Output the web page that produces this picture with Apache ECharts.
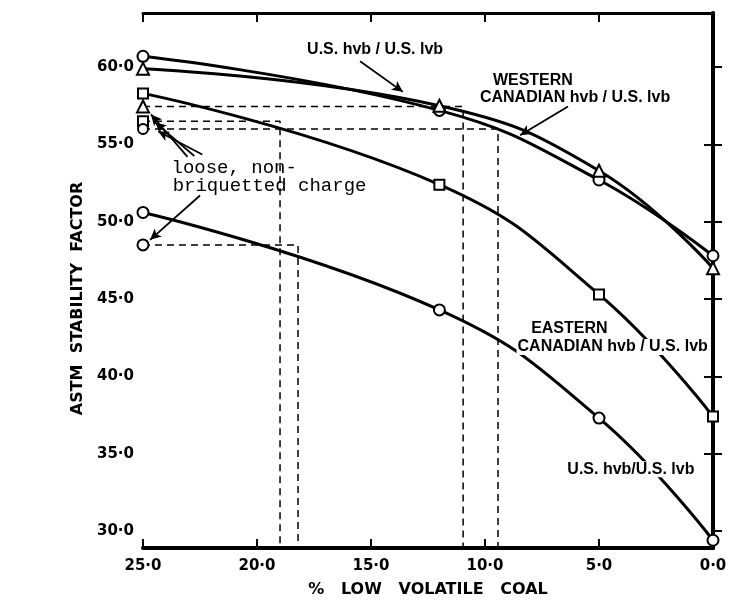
<!DOCTYPE html>
<html><head><meta charset="utf-8">
<script src="https://cdn.jsdelivr.net/npm/echarts@6/dist/echarts.min.js"></script>
<style>html,body{margin:0;padding:0;background:#fff}#c{width:737px;height:603px}</style>
</head><body><div id="c"></div>
<script>
// ---- data ----
const lowVolPct      = [25, 12, 5, 0];
const usHvbUpper     = [60.7, 57.2, 52.7, 47.8];   // circles, U.S. hvb / U.S. lvb (upper)
const westernCdnHvb  = [59.9, 57.5, 53.3, 47.0];   // triangles, Western Canadian hvb / U.S. lvb
const easternCdnHvb  = [58.3, 52.4, 45.3, 37.4];   // squares, Eastern Canadian hvb / U.S. lvb
const usHvbLower     = [50.6, 44.3, 37.3, 29.4];   // circles, U.S. hvb / U.S. lvb (lower)
// loose, non-briquetted charge values (plotted at 25 %)
const looseTriangle = 57.45, looseSquare = 56.5, looseCircleUpper = 56.0, looseCircleLower = 48.5;
// equivalent % low volatile coal
const equivTriangle = 10.96, equivSquare = 18.99, equivCircleUpper = 9.43, equivCircleLower = 18.2;
const yTickValues = [30, 35, 40, 45, 50, 55, 60];
const yRightTicks = [35, 40, 45, 50, 55];
const yMin = 28.9, yMax = 63.5;

// annotation texts: [x, y, text]
const notes = [
  [14.82, 61.15, 'U.S. hvb / U.S. lvb'],
  [7.9, 59.1, 'WESTERN'],
  [6.05, 58.05, 'CANADIAN hvb / U.S. lvb'],
  [6.3, 43.1, 'EASTERN'],
  [4.4, 41.9, 'CANADIAN hvb / U.S. lvb'],
  [3.6, 34.0, 'U.S. hvb/U.S. lvb']
];
const looseNotes = [
  [23.75, 53.5, 'loose, non-'],
  [23.7, 52.3, 'briquetted charge']
];
// arrows: [x1, y1, x2, y2]
const arrows = [
  [15.48, 60.38, 13.6, 58.4],
  [6.36, 57.45, 8.46, 55.6],
  [23.05, 54.2, 24.65, 56.94],
  [22.75, 54.25, 24.47, 56.43],
  [22.4, 54.35, 24.34, 55.85],
  [22.5, 51.7, 24.69, 48.83]
];

const fmt = v => v.toFixed(1).replace('.', '·');
const pts = ys => lowVolPct.map((x, i) => [x, ys[i]]);
const dashPath = (yv, xv) => [[25, yv], [xv, yv], [xv, yMin]];

const LW = 3;
const markerStyle = { color: '#fff', borderColor: '#000', borderWidth: 2, opacity: 1 };
function curve(name, ys, symbol, size) {
  return {
    name, type: 'line', data: pts(ys), smooth: 0.45,
    symbol, symbolSize: size, showAllSymbol: true,
    lineStyle: { color: '#000', width: LW }, itemStyle: markerStyle, z: 3
  };
}
function dashed(path) {
  return {
    type: 'line', data: path, symbol: 'none', silent: true,
    lineStyle: { color: '#000', width: 1.5, type: [7, 5] }, z: 2
  };
}

const chart = echarts.init(document.getElementById('c'), null, { renderer: 'canvas' });
chart.setOption({
  animation: false,
  backgroundColor: '#fff',
  grid: { left: 143, right: 24, top: 13, bottom: 48 },
  xAxis: [{
    type: 'value', inverse: true, min: 0, max: 25, interval: 5,
    name: '%   LOW   VOLATILE   COAL', nameLocation: 'middle', nameGap: 34,
    nameTextStyle: { fontFamily: 'DejaVu Sans', fontWeight: 'bold', fontSize: 16, color: '#000' },
    axisLine: { lineStyle: { color: '#000', width: 4 } },
    axisTick: { inside: true, length: 9, lineStyle: { color: '#000', width: 2 } },
    axisLabel: { formatter: fmt, margin: 11, fontFamily: 'DejaVu Sans', fontWeight: 'bold', fontSize: 15, color: '#000' },
    splitLine: { show: false }
  }, {
    type: 'value', inverse: true, min: 0, max: 25, interval: 5, position: 'top',
    axisLine: { lineStyle: { color: '#000', width: 3 } },
    axisTick: { inside: true, length: 9, lineStyle: { color: '#000', width: 2 } },
    axisLabel: { show: false }, splitLine: { show: false }
  }],
  yAxis: [{
    type: 'value', min: yMin, max: yMax,
    name: 'ASTM  STABILITY  FACTOR', nameLocation: 'middle', nameGap: 52, nameRotate: 90,
    nameTextStyle: { fontFamily: 'DejaVu Sans', fontWeight: 'bold', fontSize: 16, color: '#000', padding: [0, 36, 0, 0] },
    axisLine: { lineStyle: { color: '#000', width: 4 } },
    axisTick: { inside: true, length: 9, customValues: yTickValues, lineStyle: { color: '#000', width: 2 } },
    axisLabel: { customValues: yTickValues, formatter: fmt, margin: 9, fontFamily: 'DejaVu Sans', fontWeight: 'bold', fontSize: 15, color: '#000' },
    splitLine: { show: false }
  }, {
    type: 'value', min: yMin, max: yMax, position: 'right',
    axisLine: { lineStyle: { color: '#000', width: 3 } },
    axisTick: { inside: true, length: 9, customValues: yRightTicks, lineStyle: { color: '#000', width: 2 } },
    axisLabel: { show: false }, splitLine: { show: false }
  }],
  series: [
    dashed(dashPath(looseTriangle, equivTriangle)),
    dashed(dashPath(looseSquare, equivSquare)),
    dashed(dashPath(looseCircleUpper, equivCircleUpper)),
    dashed(dashPath(looseCircleLower, equivCircleLower)),
    curve('U.S. hvb / U.S. lvb', usHvbUpper, 'circle', 11),
    curve('Western Canadian hvb / U.S. lvb', westernCdnHvb, 'triangle', 12),
    curve('Eastern Canadian hvb / U.S. lvb', easternCdnHvb, 'rect', 10),
    curve('U.S. hvb / U.S. lvb (lower)', usHvbLower, 'circle', 11),
    {
      type: 'scatter', z: 4,
      data: [
        { value: [25, looseTriangle], symbol: 'triangle', symbolSize: 12 },
        { value: [25, looseSquare], symbol: 'rect', symbolSize: 10 },
        { value: [25, looseCircleUpper], symbol: 'circle', symbolSize: 10 },
        { value: [25, looseCircleLower], symbol: 'circle', symbolSize: 11 }
      ],
      itemStyle: markerStyle
    },
    {
      type: 'scatter', z: 6, symbolSize: 0, silent: true,
      itemStyle: { opacity: 1 },
      data: notes,
      label: {
        show: true, position: [0, 0], align: 'center', verticalAlign: 'middle',
        formatter: p => p.value[2],
        fontFamily: 'Liberation Sans', fontWeight: 'bold', fontSize: 16, color: '#000',
        backgroundColor: '#fff', padding: [0, 1]
      },
      markLine: {
        silent: true, symbol: ['none', 'arrow'], symbolSize: [8, 11],
        lineStyle: { color: '#000', width: 1.8, type: 'solid', opacity: 1 },
        label: { show: false },
        data: arrows.map(a => [{ coord: [a[0], a[1]] }, { coord: [a[2], a[3]] }])
      }
    },
    {
      type: 'scatter', z: 6, symbolSize: 0, silent: true,
      itemStyle: { opacity: 1 },
      data: looseNotes,
      label: {
        show: true, position: [0, 0], align: 'left', verticalAlign: 'middle',
        formatter: p => p.value[2],
        fontFamily: 'Liberation Mono', fontSize: 19, color: '#000'
      }
    }
  ]
});
</script></body></html>
